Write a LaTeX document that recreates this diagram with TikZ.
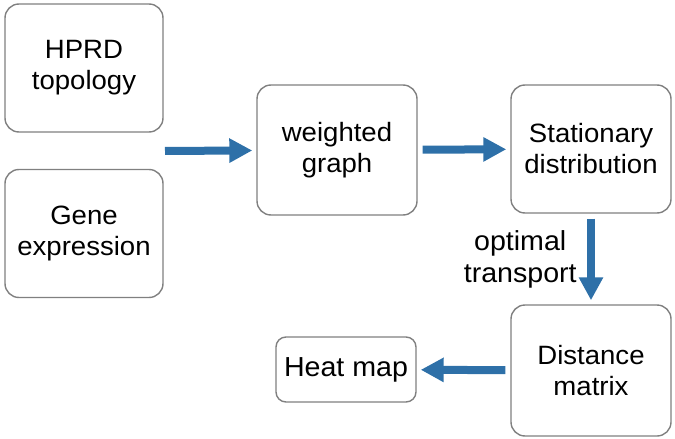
\documentclass[tikz,border=0pt]{standalone}
\usepackage{fontspec}
\setmainfont{Liberation Sans}[FakeStretch=1.04]
\usetikzlibrary{arrows.meta}

\definecolor{flowblue}{RGB}{46,112,168}
\definecolor{boxgray}{RGB}{128,128,128}

\tikzstyle{stage} = [rectangle, rounded corners=14pt, minimum width=160pt, minimum height=128pt, align=center, draw=boxgray, line width=1.4pt, fill=white, font=\fontsize{26.5}{31}\selectfont]
\tikzstyle{small} = [stage, rounded corners=10pt, minimum width=140pt, minimum height=65pt, font=\fontsize{27.5}{31}\selectfont]
\tikzstyle{arrow} = [flowblue, line width=8pt, -{Triangle[length=23pt,width=23pt]}, shorten >=4pt, shorten <=5pt]

\begin{document}
\begin{tikzpicture}[x=1pt, y=-1pt]
\useasboundingbox (0,0) rectangle (675,439);

\node (hprd) [stage, minimum width=158pt] at (84,68) {HPRD\\topology};
\node (gene) [stage, minimum width=158pt] at (84,233.5) {Gene\\expression};
\node (weighted) [stage, minimum height=130pt] at (337,150) {weighted\\graph};
\node (stat) [stage] at (591,149) {Stationary\\distribution};
\node (dist) [stage, minimum height=131pt] at (591,370.5) {Distance\\matrix};
\node (heat) [small] at (346,369.5) {Heat map};
\coordinate (merge) at (160,151);

\draw [arrow] (merge) -- (weighted);
\draw [arrow] (weighted) -- (stat);
\draw [arrow] (stat) -- node [left=7pt, name=ot, align=center, black, font=\fontsize{27.5}{32}\selectfont] {optimal\\transport} (dist);
\draw [arrow] (dist) -- (heat);

\end{tikzpicture}
\end{document}
